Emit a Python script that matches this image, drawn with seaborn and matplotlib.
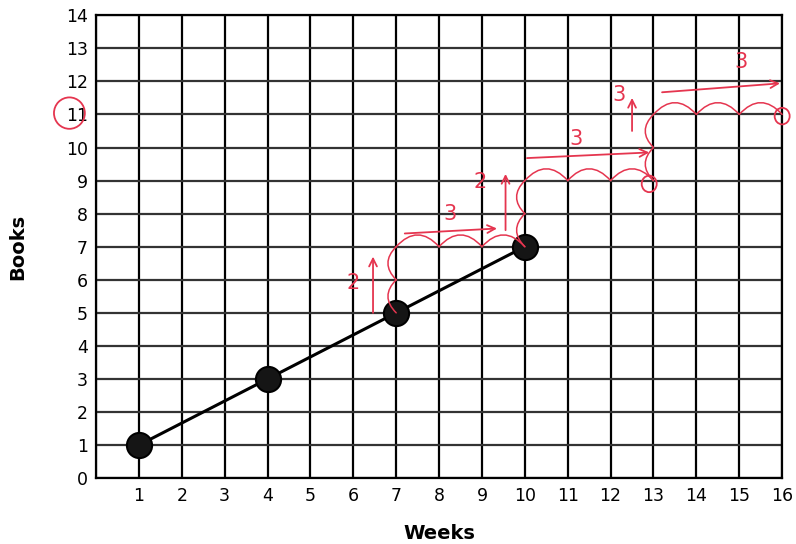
import pandas as pd
import matplotlib.pyplot as plt
import seaborn as sns
from matplotlib.patches import Ellipse

sns.set_style("white")

# Data
weeks = [1, 4, 7, 10]
books = [1, 3, 5, 7]
x_ticks = list(range(1, 17))
y_ticks = list(range(0, 15))

# red hand annotations: hops (start points, each hop goes +1 week)
hop_x = [7, 8, 9, 10, 11, 12, 13, 14, 15]
hop_y = [7, 7, 7, 9, 9, 9, 11, 11, 11]
# climbs (start points, each climb goes +1 book)
climb_x = [7, 7, 10, 10, 13, 13]
climb_y = [5, 6, 7, 8, 9, 10]

df = pd.DataFrame({"Weeks": weeks, "Books": books})

red = "#e5354f"

fig = plt.figure(figsize=(7.96, 5.44), dpi=100)
ax = fig.add_axes([0.1206, 0.121, 0.862, 0.851])

# grid
for x in range(0, 17):
    ax.axvline(x, color="black", lw=1.6, zorder=1)
for y in y_ticks:
    ax.axhline(y, color="#333333", lw=1.6, zorder=1)

sns.lineplot(data=df, x="Weeks", y="Books", color="black", lw=2.2, ax=ax, zorder=3)
sns.scatterplot(data=df, x="Weeks", y="Books", color="#151515", s=330,
                edgecolor="black", ax=ax, zorder=4)

# hops
for x, y in zip(hop_x, hop_y):
    ax.annotate("", xy=(x + 1, y), xytext=(x, y),
                arrowprops=dict(arrowstyle="-", color=red, lw=1.1, shrinkA=0, shrinkB=0,
                                connectionstyle="arc3,rad=-0.55"), zorder=5)
for x, y in zip(climb_x, climb_y):
    ax.annotate("", xy=(x, y + 1), xytext=(x, y),
                arrowprops=dict(arrowstyle="-", color=red, lw=1.1, shrinkA=0, shrinkB=0,
                                connectionstyle="arc3,rad=-0.5"), zorder=5)

# arrows
arrows = [((6.46, 5.0), (6.46, 6.7)), ((7.2, 7.4), (9.35, 7.55)),
          ((9.55, 7.5), (9.55, 9.2)), ((10.05, 9.68), (12.9, 9.85)),
          ((12.5, 10.5), (12.5, 11.5)), ((13.2, 11.67), (15.95, 11.94))]
for start, end in arrows:
    ax.annotate("", xy=end, xytext=start,
                arrowprops=dict(arrowstyle="->", color=red, lw=1.3, shrinkA=0, shrinkB=0,
                                mutation_scale=14), zorder=5)

labels = [(6.0, 5.9, "2"), (8.25, 8.0, "3"), (8.95, 8.95, "2"),
          (11.2, 10.25, "3"), (12.2, 11.6, "3"), (15.05, 12.6, "3")]
for x, y, t in labels:
    ax.text(x, y, t, color=red, fontsize=15, ha="center", va="center", zorder=5)

# end circles
for x, y in [(12.9, 8.9), (16.0, 10.95)]:
    ax.add_patch(Ellipse((x, y), 0.35, 0.5, fill=False, ec=red, lw=1.3, zorder=5,
                         clip_on=False))

# circle around 11
ax.add_patch(Ellipse((-0.62, 11.04), 0.72, 0.95, fill=False, ec=red, lw=1.3,
                     clip_on=False, zorder=5))

ax.set_xlim(0, 16)
ax.set_ylim(0, 14)
ax.set_xticks(x_ticks)
ax.set_yticks(y_ticks)
ax.tick_params(length=0, labelsize=12.5, pad=6, labelcolor="black")
ax.set_xlabel("Weeks", fontsize=14, fontweight="bold", labelpad=14, color="black")
ax.set_ylabel("Books", fontsize=14, fontweight="bold", labelpad=28, color="black")
for s in ax.spines.values():
    s.set_color("black")
    s.set_linewidth(1.6)

plt.savefig("out.png", dpi=100)
plt.close()
